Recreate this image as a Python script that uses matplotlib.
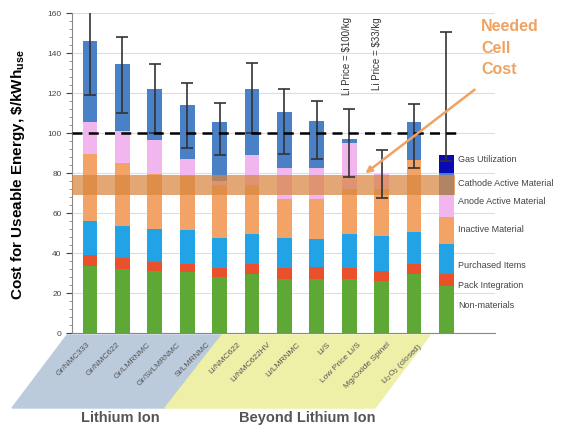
import numpy as np
import matplotlib
matplotlib.use("Agg")
import matplotlib.pyplot as plt
from matplotlib.patches import Polygon
from matplotlib.ticker import MultipleLocator

plt.rcParams['font.family'] = ['Liberation Sans', 'DejaVu Sans']
plt.rcParams['mathtext.fontset'] = 'custom'
plt.rcParams['mathtext.rm'] = 'Liberation Sans'
plt.rcParams['mathtext.bf'] = 'Liberation Sans:bold'

chemistries = ["Gr/NMC333", "Gr/NMC622", "Gr/LMRNMC", "Gr/Si/LMRNMC", "Si/LMRNMC",
               "Li/NMC622", "Li/NMC622HV", "Li/LMRNMC", "Li/S", "Low Price Li/S",
               "Mg/Oxide Spinel", "Li$_2$O$_2$ (closed)"]

# cost components, $/kWh_use
non_materials = [33.6, 32.0, 31.0, 30.3, 28.0, 29.4, 27.2, 27.2, 26.9, 26.0, 29.4, 23.5]
pack_integration = [5.4, 5.3, 4.3, 4.2, 4.3, 4.9, 5.1, 5.6, 5.4, 5.0, 5.1, 5.9]
purchased_items = [16.8, 16.1, 16.7, 16.8, 15.1, 15.3, 15.1, 14.2, 17.3, 17.7, 15.9, 15.1]
inactive_material = [33.6, 31.4, 27.5, 27.4, 26.6, 24.4, 19.6, 20.0, 22.4, 23.3, 36.1, 13.5]
anode_material = [16.2, 16.0, 17.1, 8.3, 2.0, 14.8, 15.3, 15.3, 23.0, 7.3, 0.0, 11.0]
cathode_material = [40.4, 33.7, 25.2, 27.0, 29.4, 33.0, 28.0, 23.9, 2.1, 0.0, 19.1, 11.0]
gas_utilization = [0, 0, 0, 0, 0, 0, 0, 0, 0, 0, 0, 9.0]

err_low = [119, 110, 100, 92.4, 89, 100, 89.4, 87, 78, 67.5, 82.3, 86]
err_high = [162, 148, 134.5, 125, 114.8, 135, 122, 116, 112, 91.6, 114.6, 150.5]

needed_low, needed_high = 69, 79
target_cost = 100

components = [
    ("Non-materials", non_materials, "#5ea836"),
    ("Pack Integration", pack_integration, "#e8512c"),
    ("Purchased Items", purchased_items, "#22a3e6"),
    ("Inactive Material", inactive_material, "#f4a366"),
    ("Anode Active Material", anode_material, "#f2b6ee"),
    ("Cathode Active Material", cathode_material, "#4a80c6"),
    ("Gas Utilization", gas_utilization, "#0a0ab4"),
]
label_y = {"Gas Utilization": 86.5, "Cathode Active Material": 75,
           "Anode Active Material": 66, "Inactive Material": 51.5,
           "Purchased Items": 34, "Pack Integration": 24, "Non-materials": 14}

fig = plt.figure(figsize=(5.62, 4.34), dpi=100)
W, H = 562, 434
ax = fig.add_axes([72 / W, 101 / H, 423 / W, 320 / H])

x = np.arange(len(chemistries))
bottom = np.zeros(len(chemistries))
for name, vals, col in components:
    ax.bar(x, vals, 0.46, bottom=bottom, color=col, zorder=2)
    bottom += np.array(vals)
    ax.text(11.36, label_y[name], name, fontsize=6.5, color="#444444",
            va="center", ha="left", clip_on=False)

totals = bottom
yerr = [totals - np.array(err_low), np.array(err_high) - totals]
ax.errorbar(x, totals, yerr=yerr, fmt="none", ecolor="#333333",
            elinewidth=1.2, capsize=4.5, capthick=1.2, zorder=4)

# needed cell cost band
ax.fill_between([-0.556, 11.27], needed_low, needed_high, color="#d8863f",
                alpha=0.72, lw=0, zorder=3)

ax.plot([-0.556, 11.36], [target_cost, target_cost], color="black", lw=1.8,
        dashes=(4, 2.5), zorder=5)

ax.text(12.07, 157, "Needed\nCell\nCost", color="#f0a262", fontsize=11.5,
        fontweight="bold", va="top", ha="left", linespacing=1.55, clip_on=False)
ax.annotate("", xy=(8.43, 79), xytext=(11.94, 122.5),
            arrowprops=dict(arrowstyle="-|>", color="#f0a262", lw=1.8,
                            mutation_scale=9), zorder=6)

ax.text(7.93, 158, "Li Price = \\$100/kg", rotation=90, fontsize=7,
        color="#333333", ha="center", va="top")
ax.text(8.86, 158, "Li Price = \\$33/kg", rotation=90, fontsize=7,
        color="#333333", ha="center", va="top")

ax.set_xlim(-0.556, 12.5)
ax.set_ylim(0, 160)
ax.yaxis.set_major_locator(MultipleLocator(20))
ax.yaxis.set_minor_locator(MultipleLocator(4))
ax.tick_params(axis="y", which="major", labelsize=6, colors="#444444",
               length=4, width=0.8)
ax.tick_params(axis="y", which="minor", length=2, width=0.6, colors="#888888")
ax.set_xticks([])
ax.grid(axis="y", color="#dddddd", lw=0.8, zorder=0)
ax.set_axisbelow(True)
for s in ["top", "right"]:
    ax.spines[s].set_visible(False)
ax.spines["left"].set_color("#888888")
ax.spines["bottom"].set_color("#888888")

fig.text(18 / W, 1 - 175 / H, "Cost for Useable Energy, \\$/kWh$_{\\mathbf{use}}$",
         rotation=90, fontsize=11, fontweight="bold", ha="center", va="center")

# group panels under the axis
def px(pts):
    return [(a / W, 1 - b / H) for a, b in pts]

fig.patches.append(Polygon(px([(67, 335), (222, 335), (165, 408), (12, 408)]),
                           closed=True, color="#bccbdc", transform=fig.transFigure))
fig.patches.append(Polygon(px([(222, 335), (430, 335), (375, 408), (165, 408)]),
                           closed=True, color="#eef0a8", transform=fig.transFigure))

for i, lab in enumerate(chemistries):
    fig.text((87 + 30 * i) / W, 1 - 341 / H, lab, fontsize=6, color="#555555",
             rotation=45, rotation_mode="anchor", ha="right", va="top")

fig.text(120 / W, 1 - 418 / H, "Lithium Ion", fontsize=10.5, fontweight="bold",
         color="#555555", ha="center", va="center")
fig.text(307 / W, 1 - 418 / H, "Beyond Lithium Ion", fontsize=10.5,
         fontweight="bold", color="#555555", ha="center", va="center")

fig.savefig("out.png", dpi=100)
